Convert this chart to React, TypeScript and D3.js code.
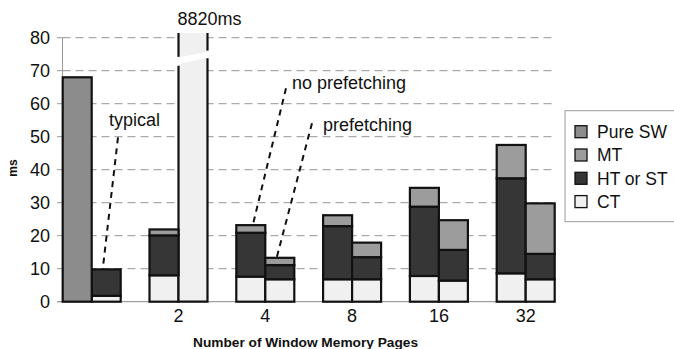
import React from 'react';
import * as d3 from 'd3';

// Values (ms)
const categories = ["", "2", "4", "8", "16", "32"];
// left bar of each group: no prefetching (first group: pure software)
const swNoPref = [68, 0, 0, 0, 0, 0];
const ctNoPref = [0, 8.0, 7.6, 6.8, 7.8, 8.6];
const htNoPref = [0, 12.1, 13.3, 16.1, 21.0, 28.8];
const mtNoPref = [0, 1.8, 2.3, 3.3, 5.7, 10.1];
// right bar of each group: prefetching (first group: typical)
const ctPref = [1.8, 8820, 6.8, 6.8, 6.4, 6.8];
const htPref = [8.0, 0, 4.3, 6.7, 9.3, 7.7];
const mtPref = [0, 0, 2.2, 4.4, 9.0, 15.3];

const yTicks = [0, 10, 20, 30, 40, 50, 60, 70, 80];
const keys = ["ct", "ht", "mt", "sw"];
const legendItems = [
  { key: "sw", label: "Pure SW" },
  { key: "mt", label: "MT" },
  { key: "ht", label: "HT or ST" },
  { key: "ct", label: "CT" },
];
const colors: { [k: string]: string } = {
  sw: "#8c8c8c",
  mt: "#9c9c9c",
  ht: "#363636",
  ct: "#f0f0f0",
};

// annotation callouts: [text, text x, text baseline, category, px offset, from value, to value]
const notes = [
  { text: "typical", tx: 109, ty: 126, cat: "", sx: 118, from: 49.8, dx: 11, to: 9.8 },
  { text: "no prefetching", tx: 292, ty: 89, cat: "4", sx: 286, from: 64.7, dx: -13, to: 22.6 },
  { text: "prefetching", tx: 323, ty: 131, cat: "4", sx: 312, from: 54.1, dx: 11, to: 12.9 },
];

const FONT = "'Liberation Sans', Arial, Helvetica, sans-serif";

export default function App() {
  const W = 674;
  const H = 349;
  const left = 62.5;
  const right = 555;
  const y = d3.scaleLinear().domain([0, 80]).range([301.7, 37.7]);
  const x = d3.scalePoint<string>().domain(categories).range([91.7, 525.7]);
  const slot = d3.scaleBand<string>().domain(["L", "R"]).range([-29, 29]);
  const topOpen = 33; // pixel top of the broken bar

  const rows = categories.flatMap((c, i) => [
    { cat: c, slot: "L", ct: ctNoPref[i], ht: htNoPref[i], mt: mtNoPref[i], sw: swNoPref[i] },
    { cat: c, slot: "R", ct: ctPref[i], ht: htPref[i], mt: mtPref[i], sw: 0 },
  ]);
  const series = d3.stack<any>().keys(keys)(rows);

  const segs: any[] = [];
  series.forEach((s) => {
    s.forEach((d: any) => {
      if (d[1] - d[0] <= 0) return;
      segs.push({ key: s.key, lo: d[0], hi: d[1], row: d.data });
    });
  });

  const bw = slot.bandwidth();

  return (
    <svg width={W} height={H} style={{ position: 'absolute', left: 0, top: 0, background: '#fff' }} fontFamily={FONT}>
      {/* grid */}
      {yTicks.filter((t) => t > 0).map((t) => (
        <line key={t} x1={left} x2={right} y1={y(t)} y2={y(t)} stroke="#aaa" strokeWidth={1.2} strokeDasharray="8,5" />
      ))}
      {/* y axis */}
      <line x1={left} x2={left} y1={y(80)} y2={y(0)} stroke="#999" strokeWidth={1} />
      <line x1={57} x2={right} y1={y(0)} y2={y(0)} stroke="#888" strokeWidth={1} />
      {yTicks.map((t) => (
        <g key={t}>
          <line x1={57} x2={left} y1={y(t)} y2={y(t)} stroke="#999" />
          <text x={50} y={y(t)} dy="0.36em" textAnchor="end" fontSize={18} fill="#111">{t}</text>
        </g>
      ))}
      <text transform={`translate(17,168) rotate(-90)`} textAnchor="middle" fontSize={12} fontWeight="bold" fill="#111">ms</text>

      {/* bars */}
      {segs.map((s, i) => {
        const x0 = (x(s.row.cat) as number) + (slot(s.row.slot) as number);
        if (s.hi > y.domain()[1]) {
          // broken bar
          const x1 = x0 + bw;
          const yb = y(0);
          const gL = [y(74.2), y(71.5)];
          const gR = [y(76.1), y(73.8)];
          return (
            <g key={i}>
              <rect x={x0} y={topOpen} width={bw} height={yb - topOpen} fill={colors[s.key]} />
              <polygon points={`${x0 - 2},${gL[0] + 1} ${x1 + 2},${gR[0] + 1} ${x1 + 2},${gR[1] - 1} ${x0 - 2},${gL[1] - 1}`} fill="#fff" />
              <polyline points={`${x0},${topOpen} ${x0},${gL[0]}`} fill="none" stroke="#111" strokeWidth={2.2} />
              <polyline points={`${x0},${gL[1]} ${x0},${yb} ${x1},${yb} ${x1},${gR[1]}`} fill="none" stroke="#111" strokeWidth={2.2} />
              <polyline points={`${x1},${topOpen} ${x1},${gR[0]}`} fill="none" stroke="#111" strokeWidth={2.2} />
              <text x={x0 - 1} y={24.5} fontSize={18} fill="#111">{`${s.hi}ms`}</text>
            </g>
          );
        }
        return (
          <rect key={i} x={x0} y={y(s.hi)} width={bw} height={y(s.lo) - y(s.hi)}
            fill={colors[s.key]} stroke="#111" strokeWidth={2.2} />
        );
      })}

      {/* x tick labels */}
      {categories.map((c) => (
        <text key={c} x={x(c)} y={322} textAnchor="middle" fontSize={18} fill="#111">{c}</text>
      ))}
      <text x={305.5} y={347} textAnchor="middle" fontSize={13.7} fontWeight="bold" fill="#111">Number of Window Memory Pages</text>

      {/* callouts */}
      {notes.map((n) => (
        <g key={n.text}>
          <line x1={n.sx} y1={y(n.from)} x2={(x(n.cat) as number) + n.dx} y2={y(n.to)}
            stroke="#111" strokeWidth={2} strokeDasharray="6,5" />
          <text x={n.tx} y={n.ty} fontSize={18} fill="#111">{n.text}</text>
        </g>
      ))}

      {/* legend */}
      <rect x={565} y={110.7} width={120} height={111} fill="#fff" stroke="#999" strokeWidth={1} />
      {legendItems.map((l, i) => {
        const cy = 131.7 + i * 23.3;
        return (
          <g key={l.key}>
            <rect x={575} y={cy - 6} width={12} height={12} fill={colors[l.key]} stroke="#111" strokeWidth={1.3} />
            <text x={597} y={cy} dy="0.36em" fontSize={17.5} fill="#111">{l.label}</text>
          </g>
        );
      })}
    </svg>
  );
}
